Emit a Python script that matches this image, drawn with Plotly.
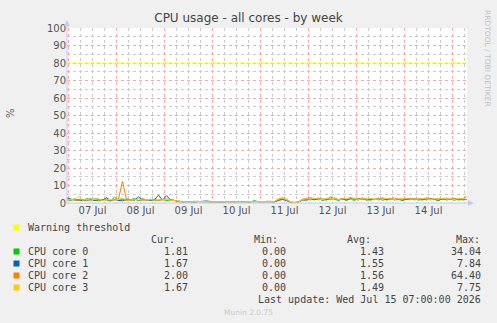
import plotly.graph_objects as go
import pandas as pd

# ---------------- data ----------------
times = pd.date_range("2026-07-06 23:00", periods=101, freq="2h")

core0 = [1.8,1.5,2.2,1.4,1.9,1.2,2.5,1.6,1.3,2.0,1.7,1.1,3.3,1.5,2.1,1.4,1.8,2.6,1.3,1.9,1.6,2.2,1.2,1.7,2.0,1.4,1.8,1.5,
         0.7,0.6,0.8,0.5,0.7,0.9,0.6,0.5,0.8,0.7,0.6,0.9,0.5,0.7,0.6,0.8,0.7,0.5,0.6,1.4,0.7,0.6,0.8,0.5,0.7,
         1.8,2.4,1.6,
         0.5,0.2,0.6,
         1.6,2.1,1.8,2.5,1.9,2.3,1.7,3.5,2.0,1.6,2.4,1.8,2.2,1.5,2.7,1.9,2.1,1.6,2.3,1.8,3.0,1.7,2.2,1.9,2.5,1.6,2.0,2.4,1.8,2.1,1.7,2.6,1.9,2.2,1.5,2.3,1.8,2.0,2.5,1.7,2.1,1.9]

core1 = [3.0,2.2,1.6,1.9,1.3,2.4,1.8,1.5,2.1,1.7,3.0,1.4,1.9,1.6,1.2,2.3,1.8,1.5,3.5,1.7,2.0,1.4,1.9,4.5,1.6,4.2,1.8,1.3,
         0.8,0.6,0.7,0.9,0.5,0.7,0.6,1.2,0.8,0.6,0.7,0.5,0.9,0.6,0.8,0.7,0.6,0.9,0.5,0.7,0.8,0.6,0.7,0.9,0.6,
         1.5,2.0,1.4,
         0.3,0.0,0.4,
         1.9,1.6,2.3,1.8,2.6,1.5,2.1,1.9,2.8,1.7,2.2,1.6,2.4,2.0,1.8,2.9,1.6,2.2,1.9,2.5,1.7,2.1,2.7,1.8,2.0,1.6,2.3,1.9,2.6,1.7,2.2,1.8,2.4,2.0,1.6,2.5,1.9,2.1,1.7,2.3,1.8,2.0]

core2 = [2.0,1.7,2.4,1.5,2.1,1.8,1.4,2.6,1.9,1.6,2.2,1.5,1.9,2.3,12.5,1.8,1.6,2.1,1.4,2.5,1.7,1.9,2.2,1.5,1.8,2.4,1.6,1.2,
         0.9,0.7,0.8,0.6,1.0,0.7,0.8,0.9,0.6,0.8,0.7,1.0,0.7,0.8,0.6,0.9,0.8,0.7,0.9,0.6,0.8,0.7,1.0,0.8,0.9,
         2.5,3.0,2.2,
         0.6,0.4,0.7,
         2.2,2.6,3.1,2.4,2.8,2.1,2.5,2.3,2.9,2.0,2.6,2.2,3.2,2.4,2.1,2.7,2.3,2.5,2.0,2.8,2.2,2.6,2.4,3.0,2.1,2.5,2.3,2.7,2.0,2.6,2.2,2.9,2.4,2.1,2.6,2.3,2.8,2.0,2.5,2.2,2.4,3.6]

core3 = [1.6,2.0,1.8,4.0,1.5,2.2,1.7,1.9,2.4,1.4,1.8,2.1,1.6,2.0,2.8,1.5,1.9,1.7,2.3,1.6,1.8,2.1,1.5,1.9,1.7,2.2,1.6,1.3,
         0.8,0.9,0.7,0.8,0.6,0.9,0.7,0.8,1.0,0.7,0.8,0.6,0.9,0.8,0.7,0.9,0.6,0.8,0.7,0.9,0.8,0.7,0.9,0.6,0.8,
         2.2,2.7,1.9,
         0.5,0.3,0.6,
         2.0,2.4,2.1,2.7,2.3,1.9,2.5,2.2,2.6,2.0,2.3,2.8,2.1,2.4,1.9,2.5,2.2,2.7,2.0,2.3,2.1,2.6,2.4,1.9,2.5,2.2,2.8,2.0,2.4,2.1,2.6,2.3,1.9,2.5,2.2,2.7,2.1,2.4,2.0,2.6,2.3,2.2]

warning_threshold = 80

series_names = ["CPU core 0", "CPU core 1", "CPU core 2", "CPU core 3"]
series_colors = ["#00CC00", "#0066B3", "#FF8000", "#FFCC00"]
warning_color = "#FFFF00"
cur_vals = ["1.81", "1.67", "2.00", "1.67"]
min_vals = ["0.00", "0.00", "0.00", "0.00"]
avg_vals = ["1.43", "1.55", "1.56", "1.49"]
max_vals = ["34.04", "7.84", "64.40", "7.75"]

# 200 hours over 400 px -> 2 px per hour, grid lines land on pixel centres
x_range = ["2026-07-06 23:15", "2026-07-15 07:15"]

# grid positions (minor grid excludes the major positions)
minor_x = [t for t in pd.date_range("2026-07-06 18:00", "2026-07-15 12:00", freq="6h") if t.hour != 0]
minor_y = [5, 15, 25, 35, 45, 55, 65, 75, 85, 95]

# ---------------- figure ----------------
W, H = 497, 323
L, R, T, B = 67, 30, 28, 120
PW, PH = W - L - R, H - T - B


def px(x):
    return (x - L) / PW


def py(y):
    return (T + PH - y) / PH


fig = go.Figure()
fig.add_trace(go.Scatter(x=[times[0], times[-1]], y=[warning_threshold] * 2, mode="lines",
                         line=dict(color=warning_color, width=1), hoverinfo="skip"))
for name, vals, col in zip(series_names, [core0, core1, core2, core3], series_colors):
    fig.add_trace(go.Scatter(x=times[:len(vals)], y=vals, mode="lines", name=name,
                             line=dict(color=col, width=1)))

major_grid = "#F2AAAA"
minor_grid = "#CACACA"

fig.update_layout(
    width=W, height=H,
    margin=dict(l=L, r=R, t=T, b=B),
    paper_bgcolor="#F0F0F0", plot_bgcolor="#FFFFFF",
    showlegend=False,
    font=dict(family="DejaVu Sans", size=10, color="#555555"),
    title=dict(text="CPU usage - all cores - by week", x=0.5, xref="container", xanchor="center",
               y=1 - 18 / H, yref="container", yanchor="middle",
               font=dict(family="DejaVu Sans", size=12, color="#444444")),
    xaxis=dict(type="date", range=x_range, dtick=86400000, tick0="2026-07-07",
               ticklabelmode="period", tickformat="%d %b", ticks="",
               showgrid=True, gridcolor=major_grid, griddash="dot", gridwidth=1,
               minor=dict(tickmode="array", tickvals=minor_x, showgrid=True,
                          gridcolor=minor_grid, griddash="dot", gridwidth=1),
               zeroline=False, showline=False, tickfont=dict(size=10, color="#555555")),
    yaxis=dict(range=[0, 100], dtick=10, ticks="", showgrid=True, gridcolor=major_grid,
               griddash="dot", gridwidth=1,
               minor=dict(tickmode="array", tickvals=minor_y, showgrid=True, gridcolor=minor_grid,
                          griddash="dot", gridwidth=1),
               zeroline=False, showline=False, tickfont=dict(size=10, color="#555555")),
)

axis_col = "#C8C8F0"
shapes = [
    dict(type="line", xref="paper", yref="paper", x0=0, x1=0, y0=0, y1=py(24), line=dict(color=axis_col, width=1)),
    dict(type="line", xref="paper", yref="paper", x0=0, x1=px(470), y0=0, y1=0, line=dict(color=axis_col, width=1)),
    dict(type="path", xref="paper", yref="paper",
         path=f"M {px(64)} {py(26)} L {px(70)} {py(26)} L {px(67)} {py(20)} Z",
         fillcolor=axis_col, line=dict(color=axis_col, width=0)),
    dict(type="path", xref="paper", yref="paper",
         path=f"M {px(468)} {py(200)} L {px(468)} {py(206)} L {px(474)} {py(203)} Z",
         fillcolor=axis_col, line=dict(color=axis_col, width=0)),
]

mono = dict(family="DejaVu Sans Mono", size=10, color="#444444")
ann = []


def text(x, y, s, anchor="left", font=mono, **kw):
    ann.append(dict(x=px(x), y=py(y), xref="paper", yref="paper", text=s, showarrow=False,
                    xanchor=anchor, yanchor="middle", font=font, **kw))


def square(xc, yc, col):
    shapes.append(dict(type="rect", xref="paper", yref="paper", x0=px(xc - 3), x1=px(xc + 3),
                       y0=py(yc + 3), y1=py(yc - 3), fillcolor=col, line=dict(width=0)))


# legend / stats
square(16.5, 227.5, warning_color)
text(26, 227.5, "Warning threshold")
text(177, 239.5, "Cur:", "right")
text(252, 239.5, "Min:", "left")
text(373, 239.5, "Avg:", "right")
text(482, 239.5, "Max:", "right")
for i, (name, col) in enumerate(zip(series_names, series_colors)):
    yy = 251.5 + 12 * i
    square(16.5, yy, col)
    text(26, yy, name)
    text(189.5, yy, cur_vals[i], "right")
    text(287.5, yy, min_vals[i], "right")
    text(385.5, yy, avg_vals[i], "right")
    text(482.5, yy, max_vals[i], "right")
text(482.5, 299.5, "Last update: Wed Jul 15 07:00:00 2026", "right")

text(248, 312, "Munin 2.0.75", "center", font=dict(family="DejaVu Sans", size=7.5, color="#C8C8C8"))
text(487, 58, "RRDTOOL / TOBI OETIKER", "center",
     font=dict(family="DejaVu Sans", size=7.5, color="#C0C0C0"), textangle=90)
text(10, 113, "%", "center", font=dict(family="DejaVu Sans", size=10, color="#555555"), textangle=-90)

fig.update_layout(shapes=shapes, annotations=ann)
fig.write_html("out.html")
